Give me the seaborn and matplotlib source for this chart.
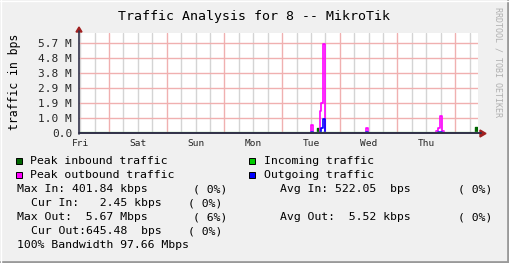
import numpy as np
import pandas as pd
import matplotlib
matplotlib.use("Agg")
import matplotlib.pyplot as plt
from matplotlib.patches import Polygon, Rectangle
from matplotlib.lines import Line2D
import seaborn as sns

# ---------------- data (hours since Fri 00:00, bps) ----------------
peak_in_t = [11.5, 110.5, 111.4, 112.9, 113.7, 176.2, 177.0, 177.5]
peak_in_v = [0, 0.34e6, 0, 0.07e6, 0, 0.38e6, 0, 0]

incoming_t = [11.5, 108.0, 131.4, 177.5]
incoming_v = [0.05e6, np.nan, 0.05e6, 0.05e6]

peak_out_t = [11.5, 107.9, 108.7, 111.7, 112.2, 112.9, 113.7, 115.0,
              130.9, 131.7, 134.5, 160.2, 161.0, 161.7, 162.6, 163.3, 177.5]
peak_out_v = [0, 0.50e6, 0, 1.38e6, 1.91e6, 5.67e6, 0.02e6, 0,
              0.35e6, 0.03e6, 0, 0.12e6, 0.30e6, 1.07e6, 0.13e6, 0, 0]

outgoing_t = [11.5, 107.9, 108.7, 111.8, 112.2, 112.9, 113.7,
              130.9, 131.7, 161.0, 162.6, 163.3, 177.5]
outgoing_v = [0, 0.04e6, 0, 0.05e6, 0.32e6, 0.91e6, 0,
              0.06e6, 0, 0.08e6, 0.03e6, 0, 0]

days = ["Fri", "Sat", "Sun", "Mon", "Tue", "Wed", "Thu"]
ytick_labels = ["0.0", "1.0 M", "1.9 M", "2.9 M", "3.8 M", "4.8 M", "5.7 M"]
ystep = 0.955e6

legend_names = ["Peak inbound traffic", "Incoming traffic",
                "Peak outbound traffic", "Outgoing traffic"]
legend_colors = ["#006600", "#00cc00", "#ff00ff", "#0000ff"]

title = "Traffic Analysis for 8 -- MikroTik"
ylabel = "traffic in bps"
side_text = "RRDTOOL / TOBI OETIKER"

# ---------------- figure ----------------
sns.set_theme(style="white")
plt.rcParams["font.family"] = ["DejaVu Sans Mono", "DejaVu Sans"]

W, H = 509, 263
BG = "#f0f0f0"
fig = plt.figure(figsize=(W / 100, H / 100), dpi=100, facecolor=BG)

def fx(x):
    return x / W

def fy(y):
    return 1 - y / H

L, R, T, B = 79, 478, 33, 133
ax = fig.add_axes([fx(L), fy(B), (R - L) / W, (B - T) / H])
ax.set_facecolor("white")
x0, x1 = 11.5, 177.5
ax.set_xlim(x0, x1)
ax.set_ylim(0, 6.67 * ystep)

# grid
majors = [24 * i for i in range(1, 8)]
minors = [h for h in range(12, 178, 6) if h % 24 != 0]
ax.set_xticks(majors)
ax.set_xticks(minors, minor=True)
ax.set_xticklabels([])
minor_labels = []
for h in minors:
    if h % 24 == 12:
        minor_labels.append(days[h // 24])
    else:
        minor_labels.append("")
ax.set_xticklabels(minor_labels, minor=True, fontsize=6.8,
                   family="DejaVu Sans Mono")
ax.set_yticks([i * ystep for i in range(len(ytick_labels))])
ax.set_yticklabels(ytick_labels, fontsize=8, family="DejaVu Sans Mono")
ax.tick_params(axis="both", which="both", length=0)
ax.tick_params(axis="y", pad=5)
ax.tick_params(axis="x", which="minor", pad=4)
ax.grid(False)
for h in minors:
    ax.axvline(h, color="#d4d4d4", lw=1, zorder=0.5)
for h in majors:
    ax.axvline(h, color="#f0b0b0", lw=1, zorder=0.6)
for i in range(1, len(ytick_labels)):
    ax.axhline(i * ystep, color="#f0b0b0", lw=1, zorder=0.6)
for s in ax.spines.values():
    s.set_visible(False)

# data
ax.fill_between(peak_in_t, peak_in_v, step="post", color="#006600", lw=0, zorder=2)
sns.lineplot(x=peak_in_t, y=peak_in_v, drawstyle="steps-post", color="#006600",
             lw=1, ax=ax, estimator=None, sort=False, zorder=2)
sns.lineplot(x=peak_out_t, y=peak_out_v, drawstyle="steps-post", color="#ff00ff",
             lw=1.2, ax=ax, estimator=None, sort=False, zorder=3)
sns.lineplot(x=outgoing_t, y=outgoing_v, drawstyle="steps-post", color="#0000ff",
             lw=1.2, ax=ax, estimator=None, sort=False, zorder=4)
sns.lineplot(x=incoming_t, y=incoming_v, drawstyle="steps-post", color="#8fd08f",
             lw=1.0, ax=ax, estimator=None, sort=False, zorder=4.5)
ax.set_xlabel("")
ax.set_ylabel("")

# axis lines and arrows (drawn over the zero-level of the series)
axis_col = "#303048"
arrow_col = "#a02020"
fig.add_artist(Line2D([fx(L), fx(R + 3)], [fy(B + 0.3), fy(B + 0.3)],
                      color=axis_col, lw=1.4, zorder=10))
fig.add_artist(Line2D([fx(L), fx(L)], [fy(B + 0.5), fy(T - 2)],
                      color=axis_col, lw=1.2, zorder=10))
fig.add_artist(Polygon([[fx(L - 3), fy(T - 1)], [fx(L + 3), fy(T - 1)], [fx(L), fy(T - 6)]],
                       closed=True, color=arrow_col, transform=fig.transFigure))
fig.add_artist(Polygon([[fx(R + 2), fy(B - 3)], [fx(R + 2), fy(B + 4)], [fx(R + 8), fy(B + 0.5)]],
                       closed=True, color=arrow_col, transform=fig.transFigure))

# texts
fig.text(fx(254), fy(16.5), title, ha="center", va="center", fontsize=9.5,
         family="DejaVu Sans Mono", color="black")
fig.text(fx(15), fy(82), ylabel, ha="center", va="center", rotation=90,
         fontsize=8.3, family="DejaVu Sans Mono", color="black")
fig.text(fx(498), fy(62), side_text, ha="center", va="center", rotation=270,
         fontsize=6, family="DejaVu Sans Mono", color="#b0b0b0")

# legend
mono = dict(fontsize=8.25, family="DejaVu Sans Mono", color="black", va="center", ha="left")
sq_pos = [(16, 161), (249, 161), (16, 175), (249, 175)]
for (sx, sy), name, col in zip(sq_pos, legend_names, legend_colors):
    fig.add_artist(Rectangle((fx(sx), fy(sy + 3)), 6 / W, 6 / H, facecolor=col,
                             edgecolor="black", lw=0.7, transform=fig.transFigure))
    fig.text(fx(sx + 14.5), fy(sy), name, **mono)

stats = [
    (17, 189, "Max In: 401.84 kbps"), (193, 189, "( 0%)"),
    (280, 189, "Avg In: 522.05  bps"), (458, 189, "( 0%)"),
    (31, 203, "Cur In:   2.45 kbps"), (188, 203, "( 0%)"),
    (17, 217, "Max Out:  5.67 Mbps"), (193, 217, "( 6%)"),
    (280, 217, "Avg Out:  5.52 kbps"), (458, 217, "( 0%)"),
    (31, 231, "Cur Out:645.48  bps"), (188, 231, "( 0%)"),
    (17, 245, "100% Bandwidth 97.66 Mbps"),
]
for sx, sy, s in stats:
    fig.text(fx(sx), fy(sy), s, **mono)

# 3D frame
fig.add_artist(Line2D([0, 1], [fy(262), fy(262)], color="#9a9a9a", lw=2))
fig.add_artist(Line2D([fx(508), fx(508)], [0, 1], color="#9a9a9a", lw=2))
fig.add_artist(Line2D([0, 1], [fy(0.5), fy(0.5)], color="#ffffff", lw=1))
fig.add_artist(Line2D([fx(0.5), fx(0.5)], [0, 1], color="#ffffff", lw=1))

fig.savefig("out.png", dpi=100, facecolor=BG)
